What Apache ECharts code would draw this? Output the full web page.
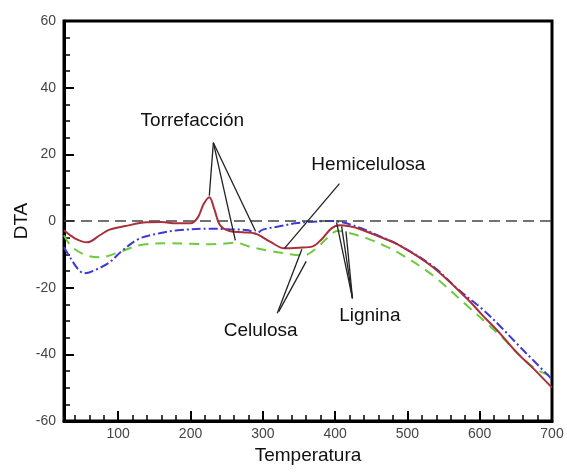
<!DOCTYPE html>
<html>
<head>
<meta charset="utf-8">
<script src="https://cdn.jsdelivr.net/npm/echarts@6/dist/echarts.min.js"></script>
<style>
html,body{margin:0;padding:0;background:#fff;}
#chart{width:567px;height:472px;}
</style>
</head>
<body>
<div id="chart"></div>
<script>
// ---- data ----
const xTicks = [100, 200, 300, 400, 500, 600, 700];
const xMinorTicks = [40, 60, 80, 120, 140, 160, 180, 220, 240, 260, 280, 320, 340, 360, 380, 420, 440, 460, 480, 520, 540, 560, 580, 620, 640, 660, 680];

const redT = [25, 40, 57, 75, 88, 110, 139, 160, 180, 200, 210, 218, 226, 233, 241, 254, 272, 290, 310, 330, 350, 369, 382, 395, 406, 420, 434, 460, 489, 535, 582, 604, 628, 651, 674, 700];
const redV = [-2.8, -5.2, -6.4, -4.2, -2.6, -1.5, -0.4, -0.3, -0.7, -0.7, 1, 5, 7.1, 3.5, -1.3, -3, -3.4, -3.8, -6.2, -8.2, -8, -7.6, -5.3, -2.2, -1.3, -1.6, -2.4, -4.6, -7.3, -13.8, -23.2, -28.3, -33.7, -39.4, -44.2, -50];

const blueT = [25, 35, 45, 53, 70, 88, 105, 129, 157, 182, 226, 254, 280, 290, 300, 323, 345, 370, 395, 410, 434, 460, 489, 535, 570, 604, 628, 651, 675, 700];
const blueV = [-7.9, -11.5, -14.6, -15.7, -14.5, -12.4, -9, -5.3, -3.7, -2.8, -2.3, -2.5, -2.8, -3.8, -2.6, -1.6, -0.7, -0.2, 0, -0.4, -2, -4.4, -7.3, -13.5, -20.5, -26.5, -31.5, -36.7, -42, -47.5];

const greenT = [25, 36, 56, 74, 101, 129, 171, 200, 226, 245, 263, 280, 305, 333, 351, 362, 374, 390, 403, 412, 444, 466, 489, 535, 582, 628, 674, 700];
const greenV = [-4.3, -7.8, -10.3, -10.9, -9.4, -7.3, -6.7, -6.8, -7, -6.8, -6.5, -7.6, -8.8, -9.8, -10.3, -10, -8.2, -4.9, -3, -3.2, -5.2, -7.2, -9.7, -16.3, -25.3, -34.3, -43.9, -46.5];

// annotations: label text and its anchor, in data units (T, DTA)
const labelTexts = ['Torrefacción', 'Hemicelulosa', 'Celulosa', 'Lignina'];
const labelT = [202.5, 446, 297, 448];
const labelV = [30.1, 16.9, -32.8, -28.3];
// leader lines: [T1, V1, T2, V2] in data units
const leaders = [
  [231.6, 23.5, 226, 7.6],
  [231.6, 23.5, 262, -5.8],
  [231.6, 23.5, 290, -3.1],
  [406, 11.2, 330, -8.2],
  [320, -27.7, 354, -8.5],
  [322, -27.2, 360, -12.1],
  [424, -23.2, 402, -0.4],
  [424, -23.2, 409, -1.6],
  [424, -23.2, 415, -3.1]
];

// ---- chart ----
function pairs(xs, ys) { return xs.map((x, i) => [x, ys[i]]); }

const chart = echarts.init(document.getElementById('chart'));
const FONT = '"Liberation Sans", Arial, sans-serif';

const series = [
  {
    name: 'Rojo', type: 'line', data: pairs(redT, redV), smooth: 0.35, showSymbol: false,
    lineStyle: { color: '#a8303a', width: 2 }, z: 5,
    markLine: {
      silent: true, symbol: 'none', label: { show: false },
      lineStyle: { color: '#444', type: [11, 6], width: 1.5 },
      data: [{ yAxis: 0 }]
    }
  },
  {
    name: 'Azul', type: 'line', data: pairs(blueT, blueV), smooth: 0.35, showSymbol: false,
    lineStyle: { color: '#3c3ad6', width: 2, type: [9, 3, 2, 3] }, z: 4
  },
  {
    name: 'Verde', type: 'line', data: pairs(greenT, greenV), smooth: 0.35, showSymbol: false,
    lineStyle: { color: '#6ccc3a', width: 2, type: [10, 7] }, z: 3
  },
  {
    name: 'labels', type: 'scatter', symbolSize: 1, silent: true,
    itemStyle: { opacity: 0 },
    data: labelTexts.map((t, i) => ({ value: [labelT[i], labelV[i]], name: t })),
    label: {
      show: true, position: 'inside', formatter: p => p.name,
      color: '#111', opacity: 1, fontSize: 19, fontFamily: FONT
    },
    z: 7
  }
];
leaders.forEach((s, i) => {
  series.push({
    name: 'leader' + i, type: 'line', silent: true, showSymbol: false, symbol: 'none',
    data: [[s[0], s[1]], [s[2], s[3]]],
    lineStyle: { color: '#222', width: 1.3 }, z: 6
  });
});

chart.setOption({
  animation: false,
  backgroundColor: '#fff',
  grid: { left: 64, top: 21, width: 488, height: 400, outerBoundsMode: 'none', containLabel: false, show: true, borderColor: '#000', borderWidth: 3, backgroundColor: 'transparent' },
  xAxis: [
    {
      type: 'value', min: 25, max: 700,
      name: 'Temperatura', nameLocation: 'middle', nameGap: 24,
      nameTextStyle: { color: '#111', fontSize: 19, fontFamily: FONT },
      axisLine: { show: true, onZero: false, lineStyle: { color: '#000', width: 3 } },
      axisTick: { show: true, inside: true, length: 10, lineStyle: { color: '#000', width: 2 }, customValues: xTicks },
      axisLabel: { color: '#444', fontSize: 14, fontFamily: FONT, margin: 6, customValues: xTicks },
      splitLine: { show: false }
    },
    {
      type: 'value', min: 25, max: 700, position: 'bottom',
      axisLine: { show: false, onZero: false },
      axisTick: { show: true, inside: true, length: 6, lineStyle: { color: '#000', width: 1.5 }, customValues: xMinorTicks },
      axisLabel: { show: false },
      splitLine: { show: false }
    }
  ],
  yAxis: {
    type: 'value', min: -60, max: 60, interval: 20,
    name: 'DTA', nameLocation: 'middle', nameGap: 33, nameMoveOverlap: false,
    nameTextStyle: { color: '#111', fontSize: 19, fontFamily: FONT },
    axisLine: { show: true, onZero: false, lineStyle: { color: '#000', width: 3 } },
    axisTick: { show: true, inside: true, length: 10, lineStyle: { color: '#000', width: 2 } },
    minorTick: { show: true, splitNumber: 4, length: 6, lineStyle: { color: '#000', width: 1.5 } },
    axisLabel: { color: '#444', fontSize: 14, fontFamily: FONT, margin: 8 },
    splitLine: { show: false }
  },
  series: series
});
</script>
</body>
</html>
